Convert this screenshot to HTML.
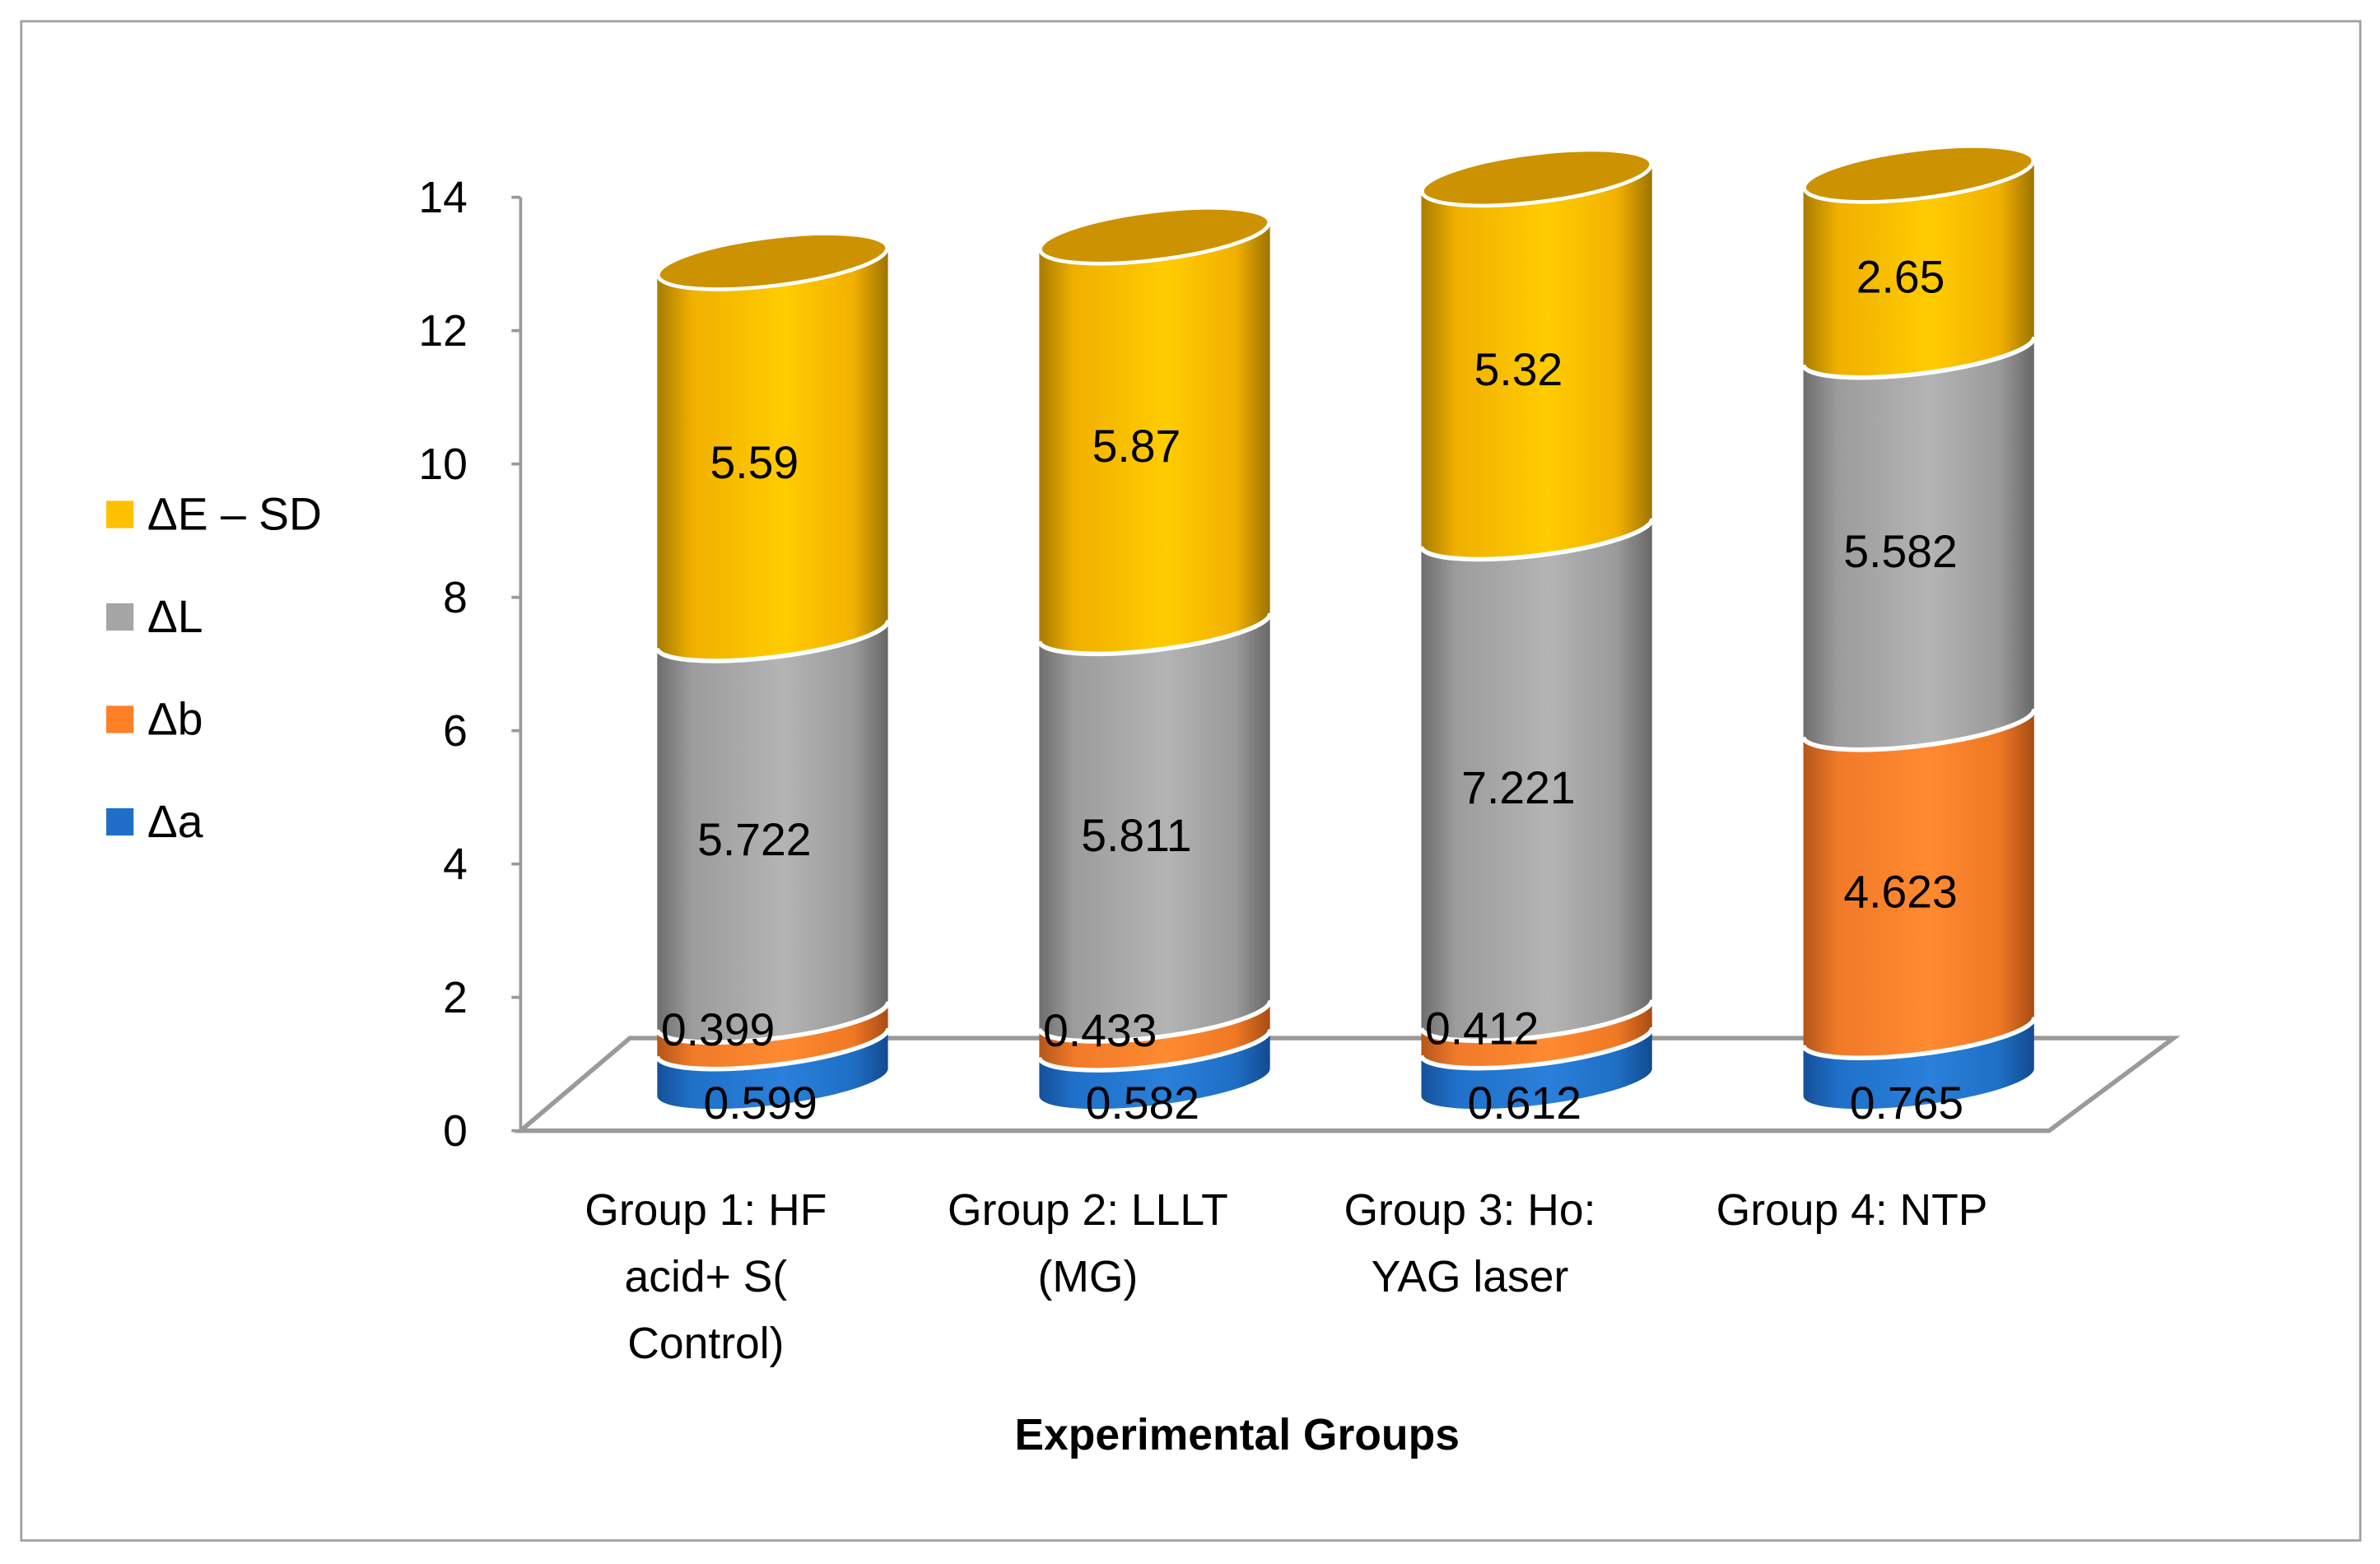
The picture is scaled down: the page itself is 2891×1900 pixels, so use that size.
<!DOCTYPE html>
<html><head><meta charset="utf-8"><style>
html,body{margin:0;padding:0;background:#fff;}
svg{display:block;}
text{font-family:"Liberation Sans","DejaVu Sans",sans-serif;}
</style></head><body>
<svg id="chart" xmlns="http://www.w3.org/2000/svg" width="2891" height="1900" viewBox="0 0 1568 1030.5">
<defs>
<linearGradient id="gGold" x1="0" x2="1"><stop offset="0" stop-color="#a87c00"/><stop offset="0.15" stop-color="#f0b000"/><stop offset="0.55" stop-color="#ffcc00"/><stop offset="0.85" stop-color="#f2b000"/><stop offset="1" stop-color="#9c7400"/></linearGradient>
<linearGradient id="gGrey" x1="0" x2="1"><stop offset="0" stop-color="#6e6e6e"/><stop offset="0.15" stop-color="#9c9c9c"/><stop offset="0.55" stop-color="#b4b4b4"/><stop offset="0.85" stop-color="#9a9a9a"/><stop offset="1" stop-color="#676767"/></linearGradient>
<linearGradient id="gOrange" x1="0" x2="1"><stop offset="0" stop-color="#b4561a"/><stop offset="0.15" stop-color="#f07a28"/><stop offset="0.55" stop-color="#ff8a30"/><stop offset="0.85" stop-color="#ef7824"/><stop offset="1" stop-color="#a84c14"/></linearGradient>
<linearGradient id="gBlue" x1="0" x2="1"><stop offset="0" stop-color="#15509a"/><stop offset="0.15" stop-color="#1f70c8"/><stop offset="0.55" stop-color="#2a80da"/><stop offset="0.85" stop-color="#1e6fc4"/><stop offset="1" stop-color="#134a90"/></linearGradient>
</defs>
<rect x="14" y="14" width="1541" height="1001" fill="#fff" stroke="#a0a0a0" stroke-width="1.5"/>
<g id="floor"></g>
<g id="yaxis"></g>
<g id="bars"></g>
<g id="labels"></g>
<g id="xaxis"></g>
<g id="legend"></g>
<text x="815" y="955" text-anchor="middle" font-size="29" font-weight="bold" fill="#000">Experimental Groups</text>
</svg>
<script>
const categories = [["Group 1: HF","acid+ S(","Control)"],["Group 2: LLLT","(MG)"],["Group 3: Ho:","YAG laser"],["Group 4: NTP"]];
const seriesNames = ["Δa","Δb","ΔL","ΔE – SD"];
const deltaA = [0.599,0.582,0.612,0.765];
const deltaB = [0.399,0.433,0.412,4.623];
const deltaL = [5.722,5.811,7.221,5.582];
const deltaE = [5.59,5.87,5.32,2.65];
const yTicks = [0,2,4,6,8,10,12,14];

const NS="http://www.w3.org/2000/svg";
function mk(tag,attrs,parent){const e=document.createElementNS(NS,tag);for(const k in attrs)e.setAttribute(k,attrs[k]);parent.appendChild(e);return e;}
const axisX=343, axisY0=745, axisY14=130, yMax=14;
function yAxisPos(v){return axisY0-(axisY0-axisY14)*v/yMax;}
const baseY=713; const unit=(axisY0-axisY14)/yMax;
function yBar(v){return baseY-unit*v;}
const groupLeft=433, groupStep=251.7, barW=152;
function xCenter(i){return groupLeft+barW/2+i*groupStep;}

const floor=document.getElementById('floor');
const fl=mk('polygon',{points:"343,745 415,684 1432,684 1350,745",fill:"#fff",stroke:"#9a9a9a","stroke-width":"3"},floor);



const ya=document.getElementById('yaxis');
const yl=mk('line',{x1:axisX,y1:yAxisPos(0),x2:axisX,y2:yAxisPos(yMax),stroke:"#9a9a9a","stroke-width":"2"},ya);


yTicks.forEach(t=>{
  const tk=mk('line',{x1:axisX-6,y1:yAxisPos(t),x2:axisX,y2:yAxisPos(t),stroke:"#9a9a9a","stroke-width":"2"},ya);
  
  
  const tx=mk('text',{x:308,y:yAxisPos(t)+10,"text-anchor":"end","font-size":"29",fill:"#000"},ya);
  tx.textContent=t;
  
  
});

const series=[deltaA,deltaB,deltaL,deltaE];
const fills=["url(#gBlue)","url(#gOrange)","url(#gGrey)","url(#gGold)"];
const segNames=["bar-delta-a","bar-delta-b","bar-delta-l","bar-delta-e"];
const rx=barW/2, ry=15, tilt=Math.tan(7*Math.PI/180);
const bars=document.getElementById('bars');
const labels=document.getElementById('labels');
function arc(cx,cy){
  const yl=cy+rx*tilt, yr=cy-rx*tilt;
  return {yl,yr,d:`A ${rx} ${ry} -7 0 0 ${cx+rx} ${yr}`};
}
for(let i=0;i<categories.length;i++){
  const cx=xCenter(i); let cum=0;
  for(let s=0;s<series.length;s++){
    const v=series[s][i]; const y0=yBar(cum), y1=yBar(cum+v);
    const b=arc(cx,y0), t=arc(cx,y1);
    const d=`M ${cx-rx} ${t.yl} L ${cx-rx} ${b.yl} ${b.d} L ${cx+rx} ${t.yr} A ${rx} ${ry} -7 0 1 ${cx-rx} ${t.yl} Z`;
    const p=mk('path',{d:d,fill:fills[s]},bars);
    
    
    if(s>0){
      const sep=mk('path',{d:`M ${cx-rx} ${b.yl} ${b.d}`,fill:"none",stroke:"#fff","stroke-width":"3"},bars);
      
      
    }
    cum+=v;
    const small=v<1;
    let ly=(y0+y1)/2+20, lx=cx-12;
    if(small){ ly = s===0 ? y0+24 : y0+2; lx = s===0 ? cx-8 : cx-36; }
    const lt=mk('text',{x:lx,y:ly,"text-anchor":"middle","font-size":"30",fill:"#000"},labels);
    lt.textContent=v;
    
    
  }
  const top=yBar(cum);
  const cap=mk('ellipse',{cx:cx,cy:top,rx:rx,ry:ry+1,fill:"#cc9200",stroke:"#fff","stroke-width":"2.5",transform:`rotate(-7 ${cx} ${top})`},bars);
  
  
}

const xa=document.getElementById('xaxis');
categories.forEach((lines,i)=>{
  const cx=xCenter(i)-44;
  lines.forEach((ln,k)=>{
    const t=mk('text',{x:cx,y:807+k*44,"text-anchor":"middle","font-size":"29",fill:"#000"},xa);
    t.textContent=ln;
    
    
  });
});

const lg=document.getElementById('legend');
const legColors=["#1f6fc8","#ff7f27","#a5a5a5","#ffc000"];
[3,2,1,0].forEach((s,k)=>{
  const y=330+k*67.5;
  const r=mk('rect',{x:70,y:y,width:18,height:18,fill:legColors[s]},lg);
  
  
  const t=mk('text',{x:97,y:y+19,"font-size":"30",fill:"#000"},lg);
  t.textContent=seriesNames[s];
  
  
});
</script>
</body></html>
